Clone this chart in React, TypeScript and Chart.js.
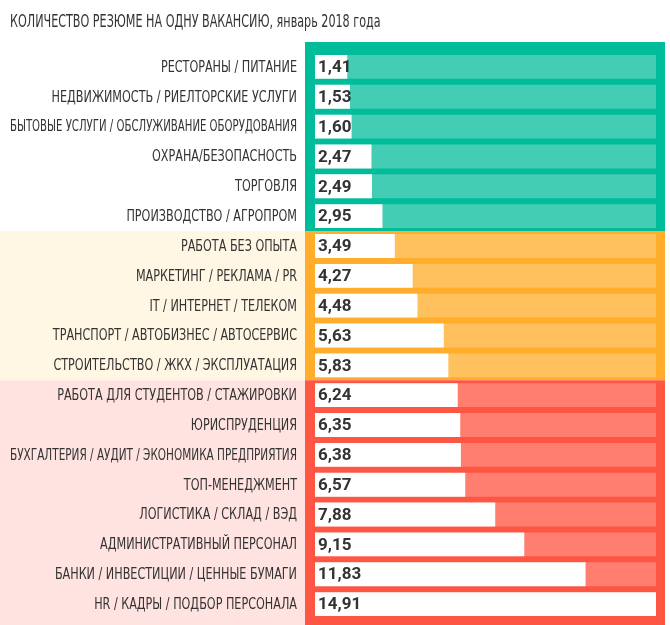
import React, { useEffect, useRef } from "react";
import { Chart, registerables } from "chart.js";

Chart.register(...registerables);

const TITLE = "КОЛИЧЕСТВО РЕЗЮМЕ НА ОДНУ ВАКАНСИЮ, январь 2018 года";

const categories = [
  "РЕСТОРАНЫ / ПИТАНИЕ",
  "НЕДВИЖИМОСТЬ / РИЕЛТОРСКИЕ УСЛУГИ",
  "БЫТОВЫЕ УСЛУГИ / ОБСЛУЖИВАНИЕ ОБОРУДОВАНИЯ",
  "ОХРАНА/БЕЗОПАСНОСТЬ",
  "ТОРГОВЛЯ",
  "ПРОИЗВОДСТВО / АГРОПРОМ",
  "РАБОТА БЕЗ ОПЫТА",
  "МАРКЕТИНГ / РЕКЛАМА / PR",
  "IT / ИНТЕРНЕТ / ТЕЛЕКОМ",
  "ТРАНСПОРТ / АВТОБИЗНЕС / АВТОСЕРВИС",
  "СТРОИТЕЛЬСТВО / ЖКХ / ЭКСПЛУАТАЦИЯ",
  "РАБОТА ДЛЯ СТУДЕНТОВ / СТАЖИРОВКИ",
  "ЮРИСПРУДЕНЦИЯ",
  "БУХГАЛТЕРИЯ / АУДИТ / ЭКОНОМИКА ПРЕДПРИЯТИЯ",
  "ТОП-МЕНЕДЖМЕНТ",
  "ЛОГИСТИКА / СКЛАД / ВЭД",
  "АДМИНИСТРАТИВНЫЙ ПЕРСОНАЛ",
  "БАНКИ / ИНВЕСТИЦИИ / ЦЕННЫЕ БУМАГИ",
  "HR / КАДРЫ / ПОДБОР ПЕРСОНАЛА",
];

const values = [1.41, 1.53, 1.6, 2.47, 2.49, 2.95, 3.49, 4.27, 4.48, 5.63, 5.83, 6.24, 6.35, 6.38, 6.57, 7.88, 9.15, 11.83, 14.91];

// group index of each category: 0 = green, 1 = orange, 2 = red
const groups = [0, 0, 0, 0, 0, 0, 1, 1, 1, 1, 1, 2, 2, 2, 2, 2, 2, 2, 2];

const MAX_VALUE = 14.91;
const fullValues = categories.map(() => MAX_VALUE);

const groupBorder = ["#00BC9A", "#FFAD2A", "#FF5543"];
const groupFill = ["#42CDB4", "#FFC15D", "#FF7E70"];
const groupTint = ["#FFFFFF", "#FFF7E3", "#FFE3E0"];

const LABEL_FONT = "'DejaVu Sans Condensed', 'Roboto', sans-serif";

const blocksPlugin = {
  id: "groupBlocks",
  beforeDraw(chart: any) {
    const { ctx, chartArea, scales } = chart;
    const y = scales.y;
    const H = chart.height;
    const step = y.getPixelForValue(1) - y.getPixelForValue(0);
    const n = categories.length;
    let start = 0;
    ctx.save();
    for (let i = 1; i <= n; i++) {
      if (i === n || groups[i] !== groups[start]) {
        const g = groups[start];
        let top = y.getPixelForValue(start) - step / 2;
        let bottom = y.getPixelForValue(i - 1) + step / 2;
        if (start === 0) top = chartArea.top - 10;
        if (i === n) bottom = H;
        ctx.fillStyle = groupTint[g];
        ctx.fillRect(0, top, chartArea.left - 10, bottom - top);
        ctx.fillStyle = groupBorder[g];
        ctx.fillRect(chartArea.left - 10, top, chartArea.right + 9 - (chartArea.left - 10), bottom - top);
        start = i;
      }
    }
    // title
    ctx.fillStyle = "#333333";
    ctx.textBaseline = "middle";
    ctx.textAlign = "left";
    ctx.font = "18px " + LABEL_FONT;
    ctx.translate(10, 22);
    ctx.scale(0.69, 1);
    ctx.fillText(TITLE, 0, 0);
    ctx.restore();

    // category labels
    ctx.save();
    ctx.fillStyle = "#333333";
    ctx.textBaseline = "middle";
    ctx.textAlign = "right";
    ctx.font = "15px " + LABEL_FONT;
    const sx = 0.83;
    categories.forEach((c, i) => {
      const py = y.getPixelForValue(i);
      ctx.save();
      ctx.translate(chartArea.left - 18, py + 1);
      ctx.scale(sx, 1);
      ctx.fillText(c, 0, 0, 287 / sx);
      ctx.restore();
    });
    ctx.restore();
  },
};

const valueLabelPlugin = {
  id: "valueLabels",
  afterDatasetsDraw(chart: any) {
    const { ctx, scales } = chart;
    const y = scales.y;
    const x = scales.x;
    ctx.save();
    ctx.font = "bold 17px Roboto, 'DejaVu Sans', sans-serif";
    ctx.fillStyle = "#333333";
    ctx.textBaseline = "middle";
    ctx.textAlign = "left";
    values.forEach((v, i) => {
      const py = y.getPixelForValue(i);
      ctx.fillText(v.toFixed(2).replace(".", ","), x.getPixelForValue(0) + 3, py + 1);
    });
    ctx.restore();
  },
};

export default function App() {
  const ref = useRef<HTMLCanvasElement | null>(null);
  useEffect(() => {
    if (!ref.current) return;
    const chart = new Chart(ref.current, {
      type: "bar",
      data: {
        labels: categories,
        datasets: [
          {
            label: "value",
            data: values,
            backgroundColor: "#FFFFFF",
            grouped: false,
            order: 0,
            barPercentage: 0.8,
            categoryPercentage: 1,
          } as any,
          {
            label: "full",
            data: fullValues,
            backgroundColor: groups.map((g) => groupFill[g]),
            grouped: false,
            order: 1,
            barPercentage: 0.8,
            categoryPercentage: 1,
          } as any,
        ],
      },
      options: {
        indexAxis: "y",
        animation: false,
        responsive: true,
        maintainAspectRatio: false,
        layout: { padding: { left: 10, right: 14, top: 52, bottom: 6 } },
        plugins: {
          legend: { display: false },
          tooltip: { enabled: false },
          title: { display: false },
        },
        scales: {
          x: { display: false, min: 0, max: MAX_VALUE },
          y: {
            grid: { display: false },
            border: { display: false },
            ticks: { display: false },
            afterFit: (s: any) => {
              s.width = 305;
            },
          },
        },
      },
      plugins: [blocksPlugin, valueLabelPlugin],
    });
    return () => chart.destroy();
  }, []);
  return (
    <div style={{ position: "absolute", left: 0, top: 0, width: 670, height: 625 }}>
      <canvas ref={ref} />
    </div>
  );
}
